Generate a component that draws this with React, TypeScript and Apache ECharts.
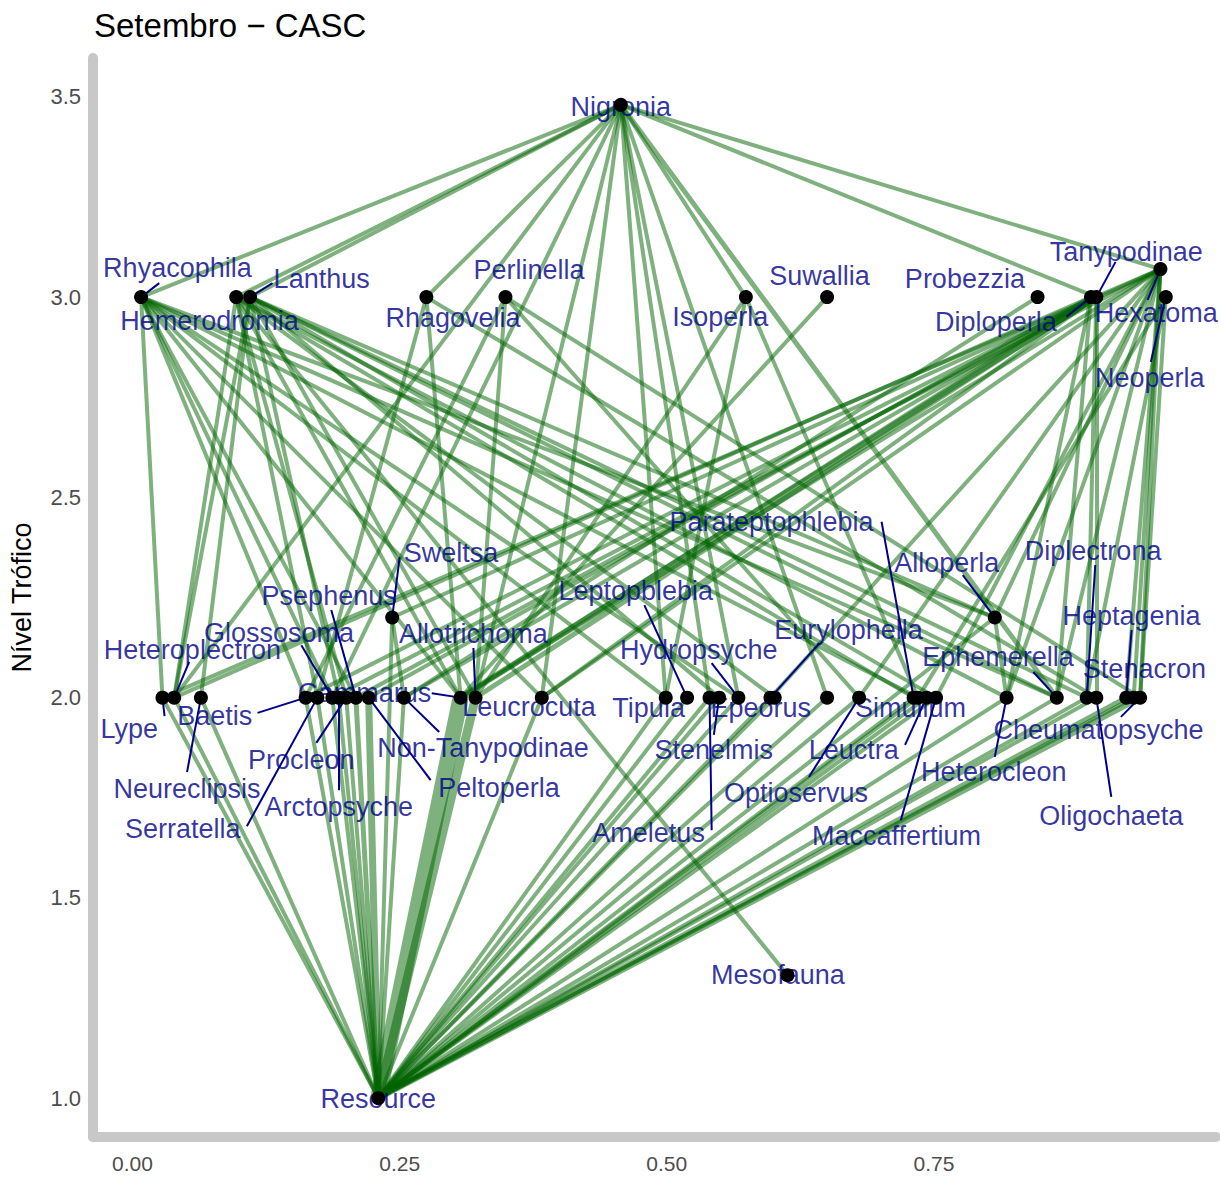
import React, { useEffect, useRef } from "react";
import * as echarts from "echarts";

// Taxa of the September food web (CASC), horizontal layout position and trophic level
const taxa = [
  "Nigronia", "Rhyacophila", "Hemerodromia", "Lanthus", "Rhagovelia", "Perlinella",
  "Isoperla", "Suwallia", "Probezzia", "Diploperla", "Tanypodinae", "Hexatoma", "Neoperla",
  "Sweltsa", "Alloperla",
  "Lype", "Heteroplectron", "Neureclipsis", "Baetis", "Serratella", "Glossosoma",
  "Arctopsyche", "Procleon", "Psephenus", "Peltoperla", "Non-Tanypodinae", "Gammarus",
  "Allotrichoma", "Leucrocuta", "Tipula", "Leptopblebia", "Ameletus", "Stenelmis",
  "Hydropsyche", "Eurylophella", "Epeorus", "Chironomini", "Optioservus", "Parateptophlebia",
  "Simulium", "Leuctra", "Maccaffertium", "Heterocleon", "Ephemerella", "Diplectrona",
  "Oligochaeta", "Heptagenia", "Stenacron", "Cheumatopsyche",
  "Mesofauna", "Resource",
];
const layoutX = [
  0.457, 0.008, 0.097, 0.110, 0.275, 0.349,
  0.574, 0.650, 0.847, 0.897, 0.902, 0.962, 0.967,
  0.243, 0.807,
  0.028, 0.039, 0.064, 0.162, 0.173, 0.187,
  0.193, 0.200, 0.209, 0.221, 0.254, 0.307,
  0.321, 0.383, 0.499, 0.519, 0.540, 0.549,
  0.567, 0.597, 0.601, 0.650, 0.680, 0.731,
  0.735, 0.743, 0.752, 0.818, 0.865, 0.893,
  0.902, 0.930, 0.937, 0.943,
  0.613, 0.230,
];
const trophicLevel = [
  3.48, 3.0, 3.0, 3.0, 3.0, 3.0,
  3.0, 3.0, 3.0, 3.0, 3.0, 3.07, 3.0,
  2.2, 2.2,
  2.0, 2.0, 2.0, 2.0, 2.0, 2.0,
  2.0, 2.0, 2.0, 2.0, 2.0, 2.0,
  2.0, 2.0, 2.0, 2.0, 2.0, 2.0,
  2.0, 2.0, 2.0, 2.0, 2.0, 2.0,
  2.0, 2.0, 2.0, 2.0, 2.0, 2.0,
  2.0, 2.0, 2.0, 2.0,
  1.307, 1.0,
];
// taxa whose names are not printed (crowded out by neighbouring labels)
const unlabelled = ["Chironomini"];

// Diets: prey eaten by each consumer
const nigroniaPrey = [
  "Rhyacophila", "Hemerodromia", "Lanthus", "Rhagovelia", "Isoperla", "Hexatoma", "Tanypodinae",
  "Heteroplectron", "Glossosoma", "Allotrichoma", "Leucrocuta", "Tipula", "Ameletus",
  "Hydropsyche", "Chironomini", "Ephemerella",
];
const rhyacophilaPrey = [
  "Lype", "Baetis", "Glossosoma", "Psephenus", "Gammarus", "Leucrocuta", "Tipula",
  "Hydropsyche", "Simulium", "Ephemerella", "Alloperla",
];
const hemerodromiaPrey = [
  "Heteroplectron", "Serratella", "Procleon", "Gammarus", "Epeorus", "Parateptophlebia",
  "Heterocleon", "Mesofauna",
];
const lanthusPrey = [
  "Heteroplectron", "Neureclipsis", "Arctopsyche", "Allotrichoma", "Stenelmis",
  "Maccaffertium", "Ephemerella", "Diplectrona", "Alloperla",
];
const rhagoveliaPrey = ["Serratella", "Gammarus", "Oligochaeta"];
const perlinellaPrey = ["Baetis", "Allotrichoma", "Optioservus", "Cheumatopsyche"];
const isoperlaPrey = ["Allotrichoma", "Tipula", "Simulium"];
const suwalliaPrey = ["Gammarus"];
const probezziaPrey = ["Non-Tanypodinae"];
const diploperlaPrey = ["Heteroplectron", "Peltoperla", "Gammarus", "Heterocleon", "Ephemerella"];
const tanypodinaePrey = [
  "Baetis", "Psephenus", "Non-Tanypodinae", "Gammarus", "Allotrichoma", "Leucrocuta",
  "Oligochaeta", "Diplectrona",
];
const hexatomaPrey = [
  "Lype", "Glossosoma", "Sweltsa", "Gammarus", "Leucrocuta", "Eurylophella", "Optioservus",
  "Maccaffertium", "Heterocleon", "Alloperla", "Ephemerella", "Heptagenia", "Stenacron",
  "Cheumatopsyche",
];
const neoperlaPrey = ["Cheumatopsyche", "Simulium", "Diplectrona"];
const sweltsaPrey = ["Resource", "Non-Tanypodinae"];
const alloperlaPrey = ["Resource", "Heterocleon"];
// every primary consumer feeds on the basal resource
const resourceConsumers = taxa.filter((t, i) => trophicLevel[i] === 2.0);

const consumers: [string, string[]][] = [
  ["Nigronia", nigroniaPrey], ["Rhyacophila", rhyacophilaPrey], ["Hemerodromia", hemerodromiaPrey],
  ["Lanthus", lanthusPrey], ["Rhagovelia", rhagoveliaPrey], ["Perlinella", perlinellaPrey],
  ["Isoperla", isoperlaPrey], ["Suwallia", suwalliaPrey], ["Probezzia", probezziaPrey],
  ["Diploperla", diploperlaPrey], ["Tanypodinae", tanypodinaePrey], ["Hexatoma", hexatomaPrey],
  ["Neoperla", neoperlaPrey], ["Sweltsa", sweltsaPrey], ["Alloperla", alloperlaPrey],
];

// interaction strengths that are heavier than the default
const strongLinks: [string, string, number][] = [
  ["Resource", "Gammarus", 16],
  ["Resource", "Allotrichoma", 9],
  ["Resource", "Peltoperla", 7],
  ["Resource", "Psephenus", 5],
  ["Resource", "Cheumatopsyche", 6],
  ["Resource", "Heptagenia", 5],
  ["Ephemerella", "Nigronia", 5],
  ["Gammarus", "Tanypodinae", 6],
  ["Allotrichoma", "Tanypodinae", 5],
];

// Repelled label layout: [taxon, label x, label y, leader start x, leader start y]
const labelLayout: [string, number, number, number | null, number | null][] = [
  ["Nigronia", 0.457, 3.475, null, null],
  ["Rhyacophila", 0.042, 3.073, 0.025, 3.035],
  ["Hemerodromia", 0.072, 2.941, null, null],
  ["Lanthus", 0.177, 3.045, 0.131, 3.035],
  ["Rhagovelia", 0.300, 2.948, null, null],
  ["Perlinella", 0.371, 3.068, null, null],
  ["Isoperla", 0.550, 2.951, null, null],
  ["Suwallia", 0.643, 3.053, null, null],
  ["Probezzia", 0.779, 3.045, null, null],
  ["Tanypodinae", 0.930, 3.113, 0.920, 3.088],
  ["Diploperla", 0.808, 2.938, 0.874, 2.951],
  ["Hexatoma", 0.958, 2.961, 0.950, 2.993],
  ["Neoperla", 0.952, 2.798, 0.953, 2.838],
  ["Sweltsa", 0.298, 2.361, 0.250, 2.351],
  ["Psephenus", 0.184, 2.254, 0.186, 2.219],
  ["Glossosoma", 0.137, 2.161, 0.158, 2.131],
  ["Heteroplectron", 0.056, 2.119, 0.053, 2.089],
  ["Allotrichoma", 0.319, 2.159, 0.319, 2.124],
  ["Leptopblebia", 0.471, 2.266, 0.479, 2.231],
  ["Hydropsyche", 0.530, 2.119, 0.542, 2.086],
  ["Eurylophella", 0.670, 2.169, 0.643, 2.136],
  ["Parateptophlebia", 0.598, 2.439, 0.701, 2.439],
  ["Alloperla", 0.762, 2.336, 0.777, 2.306],
  ["Diplectrona", 0.899, 2.366, 0.901, 2.331],
  ["Heptagenia", 0.935, 2.204, 0.935, 2.169],
  ["Ephemerella", 0.810, 2.101, 0.843, 2.064],
  ["Stenacron", 0.947, 2.071, null, null],
  ["Lype", -0.003, 1.922, 0.030, 1.954],
  ["Baetis", 0.077, 1.954, 0.117, 1.962],
  ["Gammarus", 0.217, 2.011, 0.280, 2.011],
  ["Leucrocuta", 0.371, 1.977, null, null],
  ["Tipula", 0.483, 1.974, null, null],
  ["Epeorus", 0.588, 1.974, null, null],
  ["Simulium", 0.728, 1.974, null, null],
  ["Neureclipsis", 0.051, 1.772, 0.051, 1.814],
  ["Serratella", 0.047, 1.672, 0.107, 1.679],
  ["Procleon", 0.158, 1.844, 0.172, 1.887],
  ["Arctopsyche", 0.193, 1.727, 0.193, 1.769],
  ["Non-Tanypodinae", 0.328, 1.874, 0.287, 1.914],
  ["Peltoperla", 0.343, 1.774, 0.279, 1.794],
  ["Stenelmis", 0.544, 1.869, 0.544, 1.907],
  ["Ameletus", 0.483, 1.662, 0.542, 1.669],
  ["Leuctra", 0.675, 1.869, 0.723, 1.882],
  ["Optioservus", 0.621, 1.762, 0.633, 1.802],
  ["Maccaffertium", 0.715, 1.654, 0.719, 1.694],
  ["Heterocleon", 0.806, 1.814, 0.807, 1.852],
  ["Cheumatopsyche", 0.904, 1.919, 0.925, 1.952],
  ["Oligochaeta", 0.916, 1.704, 0.916, 1.752],
  ["Mesofauna", 0.604, 1.307, null, null],
  ["Resource", 0.230, 0.999, null, null],
];

const xTicks = [0, 0.25, 0.5, 0.75];
const yTicks = [1.0, 1.5, 2.0, 2.5, 3.0, 3.5];

const FONT = "'Liberation Sans', Arial, Helvetica, sans-serif";
const EDGE_WIDTH = 4;

function nodePoint(name: string): [number, number] {
  const i = taxa.indexOf(name);
  return [layoutX[i], trophicLevel[i]];
}

function buildLinks() {
  const all: [string, string][] = [];
  resourceConsumers.forEach((c) => all.push(["Resource", c]));
  consumers.forEach(([pred, prey]) => prey.forEach((p) => all.push([p, pred])));
  return all.map(([from, to]) => {
    const strong = strongLinks.find((s) => s[0] === from && s[1] === to);
    return {
      coords: [nodePoint(from), nodePoint(to)],
      lineStyle: { width: strong ? strong[2] : EDGE_WIDTH },
    };
  });
}

export default function App() {
  const ref = useRef<HTMLDivElement>(null);

  useEffect(() => {
    if (!ref.current) return;
    const chart = echarts.init(ref.current, null, { renderer: "svg" });

    const nodes = taxa.map((t, i) => [layoutX[i], trophicLevel[i], t]);
    const labels = labelLayout
      .filter((l) => !unlabelled.includes(l[0]))
      .map((l) => [l[1], l[2], l[0]]);
    const leaders = labelLayout
      .filter((l) => l[3] !== null)
      .map((l) => ({ coords: [[l[3], l[4]], nodePoint(l[0])] }));

    chart.setOption({
      animation: false,
      backgroundColor: "#ffffff",
      title: {
        text: "Setembro \u2212 CASC",
        left: 89,
        top: 4,
        textStyle: { fontFamily: FONT, fontSize: 33, fontWeight: "normal", color: "#000000" },
      },
      grid: { left: 93, right: 4, top: 58, bottom: 45, containLabel: false },
      xAxis: {
        type: "value",
        min: -0.037,
        max: 1.014,
        axisLine: { show: true, onZero: false, lineStyle: { color: "#C8C8C8", width: 10 } },
        axisTick: { show: false },
        splitLine: { show: false },
        axisLabel: {
          customValues: xTicks,
          formatter: (v: number) => v.toFixed(2),
          fontFamily: FONT,
          fontSize: 21,
          color: "#4D4D4D",
          margin: 16,
        },
      },
      yAxis: {
        type: "value",
        min: 0.903,
        max: 3.597,
        name: "Nível Trófico",
        nameLocation: "middle",
        nameGap: 58,
        nameRotate: 90,
        nameTextStyle: { fontFamily: FONT, fontSize: 27, color: "#000000" },
        axisLine: { show: true, onZero: false, lineStyle: { color: "#C8C8C8", width: 10 } },
        axisTick: { show: false },
        splitLine: { show: false },
        axisLabel: {
          customValues: yTicks,
          formatter: (v: number) => v.toFixed(1),
          fontFamily: FONT,
          fontSize: 22,
          color: "#4D4D4D",
          margin: 12,
        },
      },
      series: [
        {
          type: "lines",
          coordinateSystem: "cartesian2d",
          z: 1,
          silent: true,
          lineStyle: { color: "#006400", opacity: 0.5, width: EDGE_WIDTH, cap: "butt" },
          data: buildLinks(),
        },
        {
          type: "lines",
          coordinateSystem: "cartesian2d",
          z: 2,
          silent: true,
          lineStyle: { color: "#00008B", opacity: 1, width: 2 },
          data: leaders,
        },
        {
          type: "scatter",
          z: 3,
          silent: true,
          symbolSize: 1,
          itemStyle: { color: "rgba(0,0,0,0)" },
          label: {
            show: true,
            position: "inside",
            formatter: (p: any) => p.data[2],
            fontFamily: FONT,
            fontSize: 27,
            color: "#00008B",
          },
          labelLayout: { hideOverlap: false },
          data: labels,
        },
        {
          type: "scatter",
          z: 4,
          silent: true,
          symbolSize: 14,
          itemStyle: { color: "#000000", opacity: 1 },
          data: nodes,
        },
      ],
    });

    return () => chart.dispose();
  }, []);

  return (
    <div
      ref={ref}
      style={{ position: "absolute", left: 0, top: 0, width: 1220, height: 1182, background: "#fff" }}
    />
  );
}
